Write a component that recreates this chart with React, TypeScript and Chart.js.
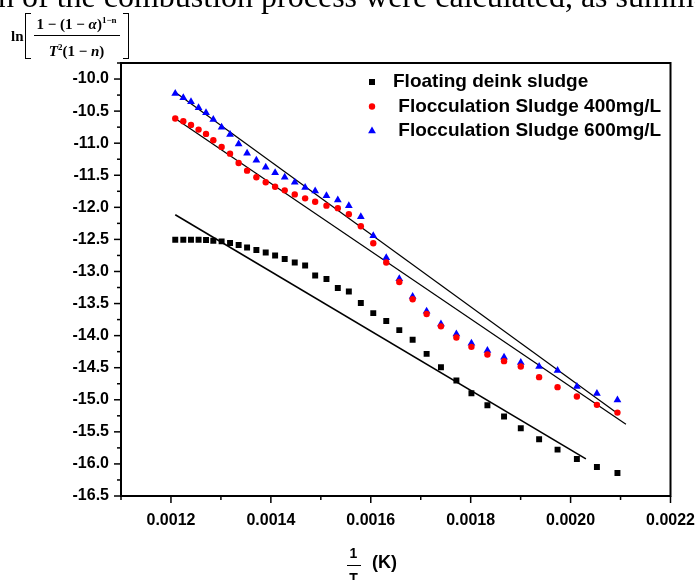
import React, { useEffect, useRef } from 'react';
import { Chart, registerables } from 'chart.js';

Chart.register(...registerables);

// ---- data ----
const X_INV_T = [
  0.0012086, 0.0012247, 0.0012401, 0.0012553, 0.0012702, 0.0012848, 0.0013014, 0.0013183,
  0.0013355, 0.0013524, 0.001371, 0.0013897, 0.0014085, 0.0014277, 0.0014478, 0.0014686,
  0.0014887, 0.0015113, 0.001534, 0.0015561, 0.0015801, 0.001605, 0.001631, 0.0016571,
  0.0016838, 0.0017118, 0.0017405, 0.0017714, 0.0018015, 0.0018335, 0.0018668, 0.0019003,
  0.001937, 0.0019739, 0.0020126, 0.0020527, 0.0020938,
];
const Y_DEINK = [
  -12.505, -12.505, -12.505, -12.505, -12.509, -12.52, -12.531, -12.556, -12.587, -12.625,
  -12.665, -12.703, -12.75, -12.806, -12.859, -12.906, -13.062, -13.118, -13.258, -13.311,
  -13.492, -13.649, -13.773, -13.914, -14.065, -14.284, -14.494, -14.7, -14.897, -15.084,
  -15.262, -15.443, -15.615, -15.777, -15.922, -16.047, -16.141,
];
const Y_FLOC400 = [
  -10.616, -10.659, -10.715, -10.788, -10.855, -10.955, -11.058, -11.163, -11.308, -11.428,
  -11.532, -11.61, -11.678, -11.735, -11.798, -11.86, -11.912, -11.974, -12.013, -12.107,
  -12.294, -12.559, -12.859, -13.165, -13.433, -13.663, -13.855, -14.029, -14.175, -14.295,
  -14.398, -14.482, -14.647, -14.803, -14.95, -15.079, -15.2,
];
const Y_FLOC600 = [
  -10.226, -10.293, -10.356, -10.449, -10.527, -10.632, -10.752, -10.866, -11.011, -11.158,
  -11.267, -11.376, -11.459, -11.532, -11.61, -11.689, -11.745, -11.818, -11.885, -11.974,
  -12.146, -12.443, -12.786, -13.114, -13.39, -13.62, -13.817, -13.975, -14.117, -14.233,
  -14.336, -14.42, -14.482, -14.544, -14.794, -14.903, -15.002,
];
// fitted straight lines (end points)
const FIT_DEINK_X = [0.0012086, 0.0020306];
const FIT_DEINK_Y = [-12.115, -15.922];
const FIT_400_X = [0.0012086, 0.0021108];
const FIT_400_Y = [-10.616, -15.381];
const FIT_600_X = [0.0012086, 0.0020887];
const FIT_600_Y = [-10.206, -15.184];

const SERIES_LABELS = [
  'Floating deink sludge',
  ' Flocculation Sludge 400mg/L',
  ' Flocculation Sludge 600mg/L',
];
const SERIES_COLORS = ['#000000', '#ff0000', '#0000ff'];
const SERIES_STYLES = ['rect', 'circle', 'triangle'];

const X_MIN = 0.0011;
const X_MAX = 0.0022;
const X_MINOR = 0.0001;
const Y_MIN = -16.5;
const Y_MAX = -9.75;
const Y_MINOR = 0.25;

const TOP_TEXT = 'n of the combustion process were calculated, as summarized in Table';
const X_TITLE_NUM = '1';
const X_TITLE_DEN = 'T';
const X_TITLE_UNIT = '(K)';

const SANS = '"Liberation Sans", Arial, sans-serif';
const SERIF = '"Liberation Serif", "Times New Roman", serif';

const pts = (xs: number[], ys: number[]) => xs.map((x, i) => ({ x, y: ys[i] }));
const isMajorX = (v: number) => Math.round(v / X_MINOR) % 2 === 0;
const isMajorY = (v: number) => Math.round(v / Y_MINOR) % 2 === 0;

function drawMarker(ctx: CanvasRenderingContext2D, style: string, x: number, y: number, color: string) {
  ctx.fillStyle = color;
  ctx.beginPath();
  if (style === 'rect') {
    ctx.rect(x - 3, y - 3, 6, 6);
  } else if (style === 'circle') {
    ctx.arc(x, y, 3.2, 0, Math.PI * 2);
  } else {
    const r = 4.5;
    ctx.moveTo(x, y - r);
    ctx.lineTo(x + r * 0.866, y + r * 0.5);
    ctx.lineTo(x - r * 0.866, y + r * 0.5);
    ctx.closePath();
  }
  ctx.fill();
}

const framePlugin = {
  id: 'frameTicksLegend',
  afterDraw(chart: any) {
    const { ctx, chartArea: a, scales } = chart;
    ctx.save();
    ctx.strokeStyle = '#000';
    ctx.lineWidth = 1.5;
    const xs = scales.x;
    xs.ticks.forEach((t: any) => {
      const p = xs.getPixelForValue(t.value);
      ctx.beginPath();
      ctx.moveTo(p, a.bottom);
      ctx.lineTo(p, a.bottom + (isMajorX(t.value) ? 7 : 4));
      ctx.stroke();
    });
    const ys = scales.y;
    ys.ticks.forEach((t: any) => {
      const p = ys.getPixelForValue(t.value);
      ctx.beginPath();
      ctx.moveTo(a.left, p);
      ctx.lineTo(a.left - (isMajorY(t.value) ? 7 : 4), p);
      ctx.stroke();
    });
    ctx.lineWidth = 2;
    ctx.strokeRect(a.left, a.top, a.right - a.left, a.bottom - a.top);

    // legend
    const mx = a.left + 251;
    const tx = a.left + 272;
    ctx.font = `bold 19px ${SANS}`;
    ctx.textBaseline = 'middle';
    ctx.textAlign = 'left';
    for (let i = 0; i < 3; i++) {
      const ds = chart.data.datasets[i];
      const yy = a.top + 19 + i * 24.5;
      drawMarker(ctx, SERIES_STYLES[i], mx, yy, ds.backgroundColor);
      ctx.fillStyle = '#000';
      ctx.fillText(ds.label, tx, yy);
    }
    ctx.restore();
  },
};

export default function App() {
  const ref = useRef<HTMLCanvasElement | null>(null);

  useEffect(() => {
    if (!ref.current) return;
    const scatter = (i: number, ys: number[]) => ({
      label: SERIES_LABELS[i],
      data: pts(X_INV_T, ys),
      backgroundColor: SERIES_COLORS[i],
      borderColor: SERIES_COLORS[i],
      pointStyle: SERIES_STYLES[i],
      pointRadius: i === 0 ? 4.2 : i === 1 ? 3.2 : 4.5,
      pointBorderWidth: 0,
      showLine: false,
    });
    const fit = (xs: number[], ys: number[], w: number) => ({
      label: '',
      data: pts(xs, ys),
      borderColor: '#000',
      borderWidth: w,
      pointRadius: 0,
      showLine: true,
      fill: false,
    });
    const chart = new Chart(ref.current, {
      type: 'scatter',
      data: {
        datasets: [
          scatter(0, Y_DEINK),
          scatter(1, Y_FLOC400),
          scatter(2, Y_FLOC600),
          fit(FIT_DEINK_X, FIT_DEINK_Y, 1.6),
          fit(FIT_400_X, FIT_400_Y, 1.2),
          fit(FIT_600_X, FIT_600_Y, 1.2),
        ] as any,
      },
      options: {
        animation: false,
        responsive: false,
        devicePixelRatio: 1,
        layout: { padding: { top: 63, right: 24.5, left: 0, bottom: 0 } },
        plugins: { legend: { display: false }, tooltip: { enabled: false } },
        scales: {
          x: {
            type: 'linear',
            min: X_MIN,
            max: X_MAX,
            grid: { display: false, drawTicks: false },
            border: { display: false },
            ticks: {
              stepSize: X_MINOR,
              autoSkip: false,
              maxRotation: 0,
              padding: 15,
              color: '#000',
              font: { family: SANS, weight: 'bold', size: 16 },
              callback: (v: any) => (isMajorX(Number(v)) ? Number(v).toFixed(4) : ''),
            },
            afterFit: (s: any) => {
              s.height = 84;
              s.paddingLeft = 0;
              s.paddingRight = 0;
            },
          },
          y: {
            type: 'linear',
            min: Y_MIN,
            max: Y_MAX,
            grid: { display: false, drawTicks: false },
            border: { display: false },
            ticks: {
              stepSize: Y_MINOR,
              autoSkip: false,
              padding: 12,
              color: '#000',
              font: { family: SANS, weight: 'bold', size: 16 },
              callback: (v: any) => (isMajorY(Number(v)) ? Number(v).toFixed(1) : ''),
            },
            afterFit: (s: any) => {
              s.width = 121;
              s.paddingTop = 0;
              s.paddingBottom = 0;
            },
          },
        },
      } as any,
      plugins: [framePlugin],
    });
    return () => chart.destroy();
  }, []);

  const bracket = (side: 'l' | 'r') => (
    <span
      style={{
        display: 'inline-block',
        width: 5,
        height: 44,
        borderTop: '1.5px solid #000',
        borderBottom: '1.5px solid #000',
        borderLeft: side === 'l' ? '1.5px solid #000' : 'none',
        borderRight: side === 'r' ? '1.5px solid #000' : 'none',
      }}
    />
  );

  return (
    <div
      style={{
        position: 'fixed',
        left: 0,
        top: 0,
        width: 695,
        height: 580,
        overflow: 'hidden',
        background: '#fff',
      }}
    >
      <canvas ref={ref} width={695} height={580} style={{ position: 'absolute', left: 0, top: 0, width: 695, height: 580 }} />
      <div
        style={{
          position: 'absolute',
          left: -2,
          top: -20,
          fontFamily: SERIF,
          fontSize: 32,
          lineHeight: '32px',
          whiteSpace: 'nowrap',
          color: '#000',
        }}
      >
        {TOP_TEXT}
      </div>
      <div
        style={{
          position: 'absolute',
          left: 11,
          top: 12,
          display: 'flex',
          alignItems: 'center',
          fontFamily: SERIF,
          fontWeight: 'bold',
          color: '#000',
        }}
      >
        <span style={{ fontSize: 15, marginRight: 1 }}>ln</span>
        {bracket('l')}
        <span style={{ display: 'inline-flex', flexDirection: 'column', alignItems: 'center', margin: '0 3px' }}>
          <span style={{ fontSize: 15, lineHeight: '17px', borderBottom: '1px solid #000', padding: '0 3px 2px' }}>
            1 − (1 − <i>α</i>)<sup style={{ fontSize: 9 }}>1−n</sup>
          </span>
          <span style={{ fontSize: 15, lineHeight: '17px', paddingTop: 3 }}>
            <i>T</i>
            <sup style={{ fontSize: 9 }}>2</sup>(1 − <i>n</i>)
          </span>
        </span>
        {bracket('r')}
      </div>
      <div
        style={{
          position: 'absolute',
          left: 346,
          top: 546,
          width: 15,
          display: 'flex',
          flexDirection: 'column',
          alignItems: 'center',
          fontFamily: SANS,
          fontWeight: 'bold',
          fontSize: 14,
          lineHeight: '14px',
          color: '#000',
        }}
      >
        <span>{X_TITLE_NUM}</span>
        <span style={{ width: 14, height: 1, background: '#000', marginTop: 5 }} />
        <span style={{ marginTop: 5 }}>{X_TITLE_DEN}</span>
      </div>
      <div
        style={{
          position: 'absolute',
          left: 372,
          top: 553,
          fontFamily: SANS,
          fontWeight: 'bold',
          fontSize: 18,
          lineHeight: '18px',
          color: '#000',
        }}
      >
        {X_TITLE_UNIT}
      </div>
    </div>
  );
}
